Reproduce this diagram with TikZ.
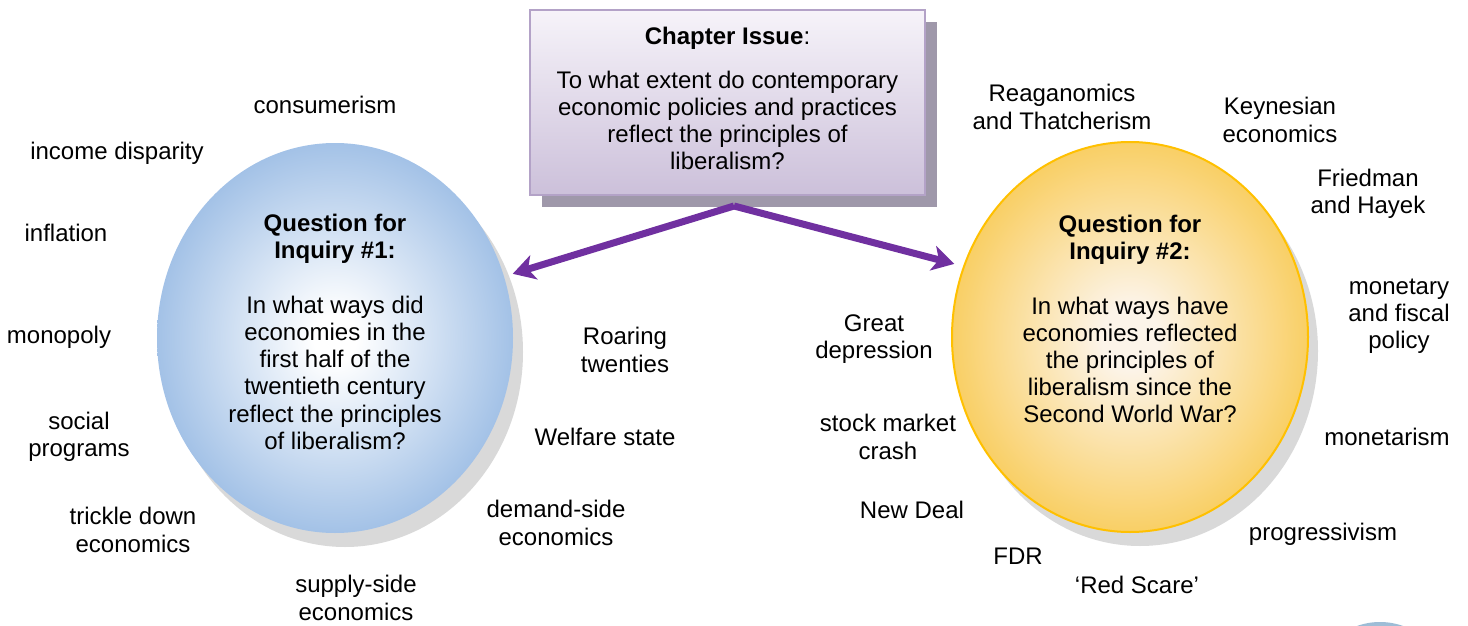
\documentclass[tikz,border=0pt]{standalone}
\usepackage{fontspec}
\setmainfont{Liberation Sans}
\usepackage{tikz}
\usetikzlibrary{arrows.meta,shapes.geometric,shadows,positioning}
\definecolor{issueline}{HTML}{B3A2C7}
\definecolor{issuetop}{HTML}{F6F3F9}
\definecolor{issuebot}{HTML}{CCC0DA}
\definecolor{issueshadow}{HTML}{9F98AA}
\definecolor{ballshadow}{HTML}{D9D9D9}
\definecolor{ballblue}{HTML}{8AB1E0}
\definecolor{ballyellow}{HTML}{F8C133}
\definecolor{yellowcore}{HTML}{FCF4E9}
\definecolor{yellowrim}{HTML}{FFC000}
\definecolor{arrowpurple}{HTML}{7030A0}
\definecolor{fragblue}{HTML}{9DBCD6}
\pgfdeclareradialshading{blueball}{\pgfpoint{0bp}{0bp}}{color(0bp)=(white); color(3bp)=(white); color(31bp)=(ballblue); color(50bp)=(ballblue)}
\pgfdeclareradialshading{yellowball}{\pgfpoint{0bp}{0bp}}{color(0bp)=(yellowcore); color(4bp)=(yellowcore); color(33bp)=(ballyellow); color(50bp)=(ballyellow)}
\tikzset{
    %Define style for the issue box
    issue/.style={
           rectangle,
           draw=issueline, line width=2.5pt,
           top color=issuetop, bottom color=issuebot,
           minimum width=395pt,
           minimum height=185pt,
           drop shadow={shadow xshift=12pt, shadow yshift=-12pt,
                        fill=issueshadow, opacity=1}},
    %Define style for the question balls
    question/.style={
           ellipse,
           inner sep=0pt,
           minimum width=356pt,
           minimum height=390pt,
           drop shadow={shadow xshift=10pt, shadow yshift=-14pt,
                        fill=ballshadow, opacity=1}},
    %Define style for texts
    bodytext/.style={
           font=\fontsize{24}{27.2}\selectfont,
           align=center,
           inner sep=0pt},
    term/.style={bodytext},
    % Define arrow style
    pil/.style={
           -{Stealth[length=22pt,width=25pt,inset=6pt]},
           line width=7pt,
           draw=arrowpurple,
           shorten >=9pt}
}

\begin{document}
\begin{tikzpicture}[x=1pt,y=-1pt]
\useasboundingbox (0,0) rectangle (1468,626);
% issue box and question balls
\node[issue](issue) at (727.5,102.5){};
\node[bodytext] at ([yshift=4pt]issue.center){\textbf{Chapter Issue}:\\[17pt]
  To what extent do contemporary\\economic policies and practices\\
  reflect the principles of\\liberalism?};
\node[question, shading=blueball](q1) at (335,338){};
\node[bodytext] at ([yshift=6pt]q1.center){\textbf{Question for}\\\textbf{Inquiry \#1:}\\[27.2pt]
  In what ways did\\economies in the\\first half of the\\twentieth century\\
  reflect the principles\\of liberalism?};
\node[question, shading=yellowball, draw=yellowrim, line width=2pt](q2) at (1130,337){};
\node[bodytext] at ([yshift=18pt]q2.center){\textbf{Question for}\\\textbf{Inquiry \#2:}\\[27.6pt]
  In what ways have\\economies reflected\\the principles of\\
  liberalism since the\\Second World War?};
\shade[inner color=white!60!fragblue, outer color=fragblue] (1380,690) circle (68);
% arrows
\coordinate (split) at (734,206);
\draw[pil] (split) -- (q1.20);
\draw[pil] (split) -- (q2.157);
% terms round the first question
\node[term](consum) at (325,105){consumerism};
\node[term](income) at (117,153){income disparity};
\node[term](infl) at (66,233){inflation};
\node[term](monop) at (59,337){monopoly};
\node[term](social) at (79,437){social\\programs};
\node[term](trickle) at (133,530){trickle down\\economics};
\node[term](supply) at (356,598){supply-side\\economics};
\node[term](roar) at (625,350){Roaring\\twenties};
\node[term](welfare) at (605,437){Welfare state};
\node[term](demand) at (556,523){demand-side\\economics};
% terms round the second question
\node[term](reagan) at (1062,107){Reaganomics\\and Thatcherism};
\node[term](keynes) at (1280,120){Keynesian\\economics};
\node[term](fried) at (1368,194){Friedman\\and Hayek};
\node[term](monfis) at (1399,316){monetary\\and fiscal\\policy};
\node[term](monet) at (1387,437){monetarism};
\node[term](progr) at (1323,534){progressivism};
\node[term](red) at (1137,585){‘Red Scare’};
\node[term](fdr) at (1018,556){FDR};
\node[term](newdeal) at (912,510){New Deal};
\node[term](crash) at (888,437){stock market\\crash};
\node[term](great) at (874,339){Great\\depression};
\end{tikzpicture}
\end{document}
